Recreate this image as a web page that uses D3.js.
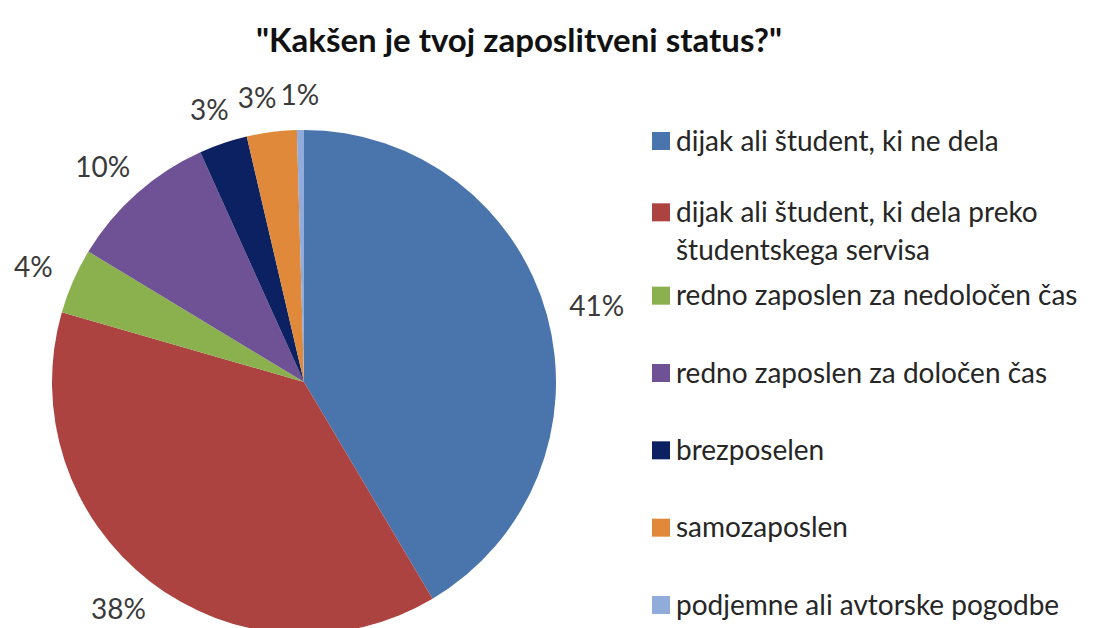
<!DOCTYPE html>
<html>
<head>
<meta charset="utf-8">
<script src="https://cdn.jsdelivr.net/npm/d3@7"></script>
<style>
  html, body { margin: 0; padding: 0; background: #fff; }
  svg { display: block; font-family: Lato, "Open Sans", sans-serif; }
</style>
</head>
<body>
<script>
const title = "\"Kakšen je tvoj zaposlitveni status?\"";
const categories = [
  "dijak ali študent, ki ne dela",
  "dijak ali študent, ki dela preko študentskega servisa",
  "redno zaposlen za nedoločen čas",
  "redno zaposlen za določen čas",
  "brezposelen",
  "samozaposlen",
  "podjemne ali avtorske pogodbe"
];
const shares = [41.5, 38.0, 4.2, 9.6, 3.1, 3.2, 0.45];
const percentLabels = ["41%", "38%", "4%", "10%", "3%", "3%", "1%"];
const colors = ["#4A74AC", "#AC4340", "#8BB04E", "#6F5196", "#0C2161", "#E0893A", "#91ABDA"];

const width = 1112, height = 628;
const cx = 304, cy = 382, radius = 252;
const pctSize = 28;

const svg = d3.select("body").append("svg")
  .attr("width", width)
  .attr("height", height);

svg.append("text")
  .attr("x", 519)
  .attr("y", 52)
  .attr("text-anchor", "middle")
  .attr("font-size", 33)
  .attr("font-weight", "bold")
  .attr("fill", "#111")
  .text(title);

const color = d3.scaleOrdinal().domain(categories).range(colors);

const pie = d3.pie().sort(null).value(d => d.value);
const arcs = pie(categories.map((c, i) => ({ name: c, value: shares[i], label: percentLabels[i] })));

const arc = d3.arc().innerRadius(0).outerRadius(radius);
const labelArc = d3.arc().innerRadius(radius + 24).outerRadius(radius + 24);

const g = svg.append("g").attr("transform", `translate(${cx},${cy})`);

g.selectAll("path")
  .data(arcs)
  .join("path")
  .attr("d", arc)
  .attr("fill", d => color(d.data.name));

// labels outside the pie, box pushed outward along the mid angle
const labels = g.selectAll("text.pct")
  .data(arcs)
  .join("text")
  .attr("class", "pct")
  .attr("font-size", pctSize)
  .attr("fill", "#3a3a3a")
  .attr("text-anchor", "middle")
  .attr("dy", "0.35em")
  .text(d => d.data.label);

const boxes = [];
labels.each(function(d) {
  const w = this.getComputedTextLength();
  const h = pctSize * 0.75;
  const a = (d.startAngle + d.endAngle) / 2;
  const [x0, y0] = labelArc.centroid(d);
  let x = x0 + Math.sin(a) * w / 2;
  let y = y0 - Math.cos(a) * h / 2;
  // keep inside the picture: slide along the circle if it falls off the bottom
  const maxY = height - cy - h / 2 - 4;
  if (y > maxY) {
    const dist = Math.hypot(x, y);
    y = maxY;
    x = Math.sign(x) * Math.sqrt(Math.max(0, dist * dist - y * y));
  }
  boxes.push({ node: this, x, y, w, h });
});

// push apart neighbouring labels on the left half (walk back from the top)
for (let i = boxes.length - 2; i >= 0; i--) {
  const a = boxes[i], b = boxes[i + 1];
  const overlapX = (a.w + b.w) / 2 + 4 - Math.abs(b.x - a.x);
  const overlapY = (a.h + b.h) / 2 - Math.abs(b.y - a.y);
  if (overlapX > 0 && overlapY > 0 && a.x < 0) a.x -= overlapX;
}

boxes.forEach(b => d3.select(b.node).attr("x", b.x).attr("y", b.y));

// legend
const legendX = 652, sw = 18, textX = 676;
const maxTextWidth = width - textX - 8;
const ly = d3.scalePoint().domain(categories).range([141, 605]);
const lineH = 38;

const legend = svg.append("g").attr("font-size", 28).attr("fill", "#262626");

categories.forEach(c => {
  const words = c.split(" ");
  const t = legend.append("text").attr("x", textX);
  const lines = [];
  let line = [];
  const probe = legend.append("text").attr("visibility", "hidden");
  words.forEach(w => {
    const test = line.concat(w).join(" ");
    probe.text(test);
    if (probe.node().getComputedTextLength() > maxTextWidth && line.length) {
      lines.push(line.join(" "));
      line = [w];
    } else {
      line.push(w);
    }
  });
  lines.push(line.join(" "));
  probe.remove();

  const y0 = ly(c) - (lines.length - 1) * 6;
  lines.forEach((l, i) => {
    t.append("tspan")
      .attr("x", textX)
      .attr("y", y0 + i * lineH)
      .attr("dy", "0.35em")
      .text(l);
  });
  legend.append("rect")
    .attr("x", legendX)
    .attr("y", y0 - sw / 2)
    .attr("width", sw)
    .attr("height", sw)
    .attr("fill", color(c));
});
</script>
</body>
</html>
